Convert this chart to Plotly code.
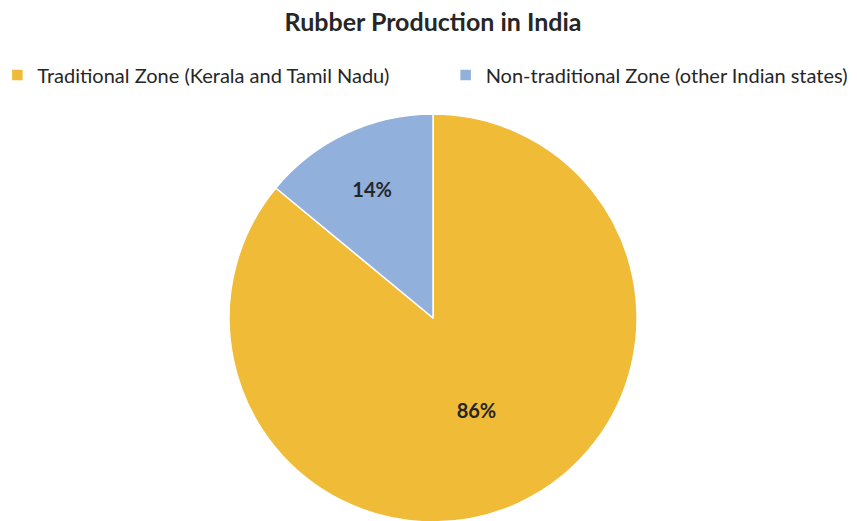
import plotly.graph_objects as go

labels = ["Traditional Zone (Kerala and Tamil Nadu)", "Non-traditional Zone (other Indian states)"]
shares = [86, 14]
colors = ["#F0BB37", "#92B0DC"]

TEXT = "#262626"
FONT = "Lato, 'Open Sans', sans-serif"

# pad the first legend label so the second entry sits further right
legend_labels = [labels[0] + "\u00a0" * 10, labels[1]]

fig = go.Figure(
    go.Pie(
        labels=legend_labels,
        values=shares,
        customdata=labels,
        sort=False,
        direction="clockwise",
        rotation=0,
        marker={"colors": colors, "line": {"color": "white", "width": 1.5}},
        textinfo="percent",
        texttemplate="%{percent:.0%}",
        textposition="inside",
        insidetextorientation="horizontal",
        textfont={"family": FONT, "size": 20, "color": TEXT, "weight": "bold"},
        domain={"x": [0.2579, 0.7340], "y": [0.0162, 0.9629]},
        hovertemplate="%{customdata}: %{percent:.0%}<extra></extra>",
    )
)

fig.update_layout(
    width=857,
    height=521,
    paper_bgcolor="white",
    plot_bgcolor="white",
    margin={"l": 0, "r": 0, "t": 90, "b": 0, "autoexpand": False},
    font={"family": FONT, "color": TEXT},
    title={
        "text": "<b>Rubber Production in India</b>",
        "x": 0.496,
        "xanchor": "center",
        "y": 1,
        "yanchor": "top",
        "pad": {"t": 5},
        "font": {"size": 25, "color": TEXT},
    },
    legend={
        "orientation": "h",
        "x": -0.0124,
        "xanchor": "left",
        "y": 1.0534,
        "yanchor": "middle",
        "font": {"size": 20, "color": TEXT},
        "traceorder": "normal",
    },
    showlegend=True,
)

fig.write_html("out.html")
